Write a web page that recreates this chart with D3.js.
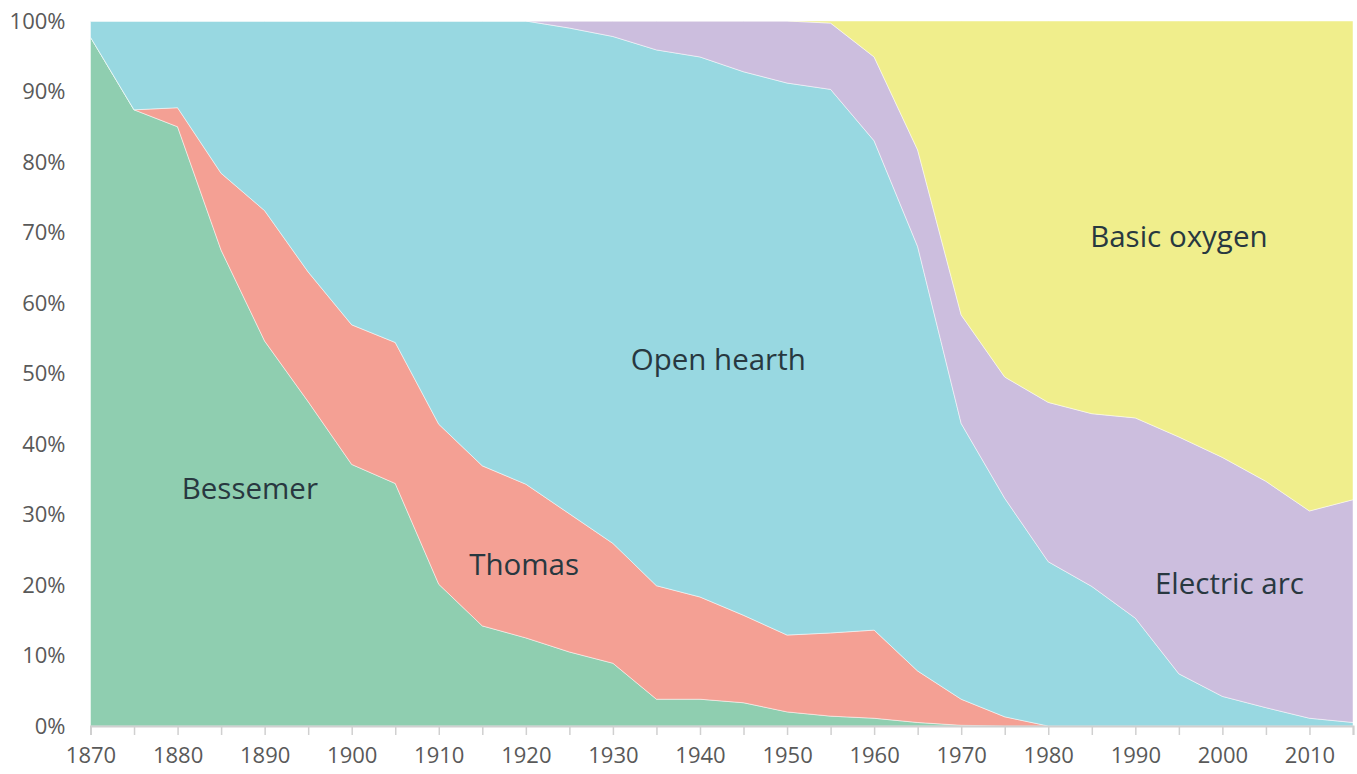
<!doctype html>
<html>
  <head>
    <meta charset="utf-8">
    <script src="https://cdn.jsdelivr.net/npm/d3@7"></script>
    <style>
      body { margin: 0; background: #fff; }
      svg { display: block; }
      .tick text { font-family: "Open Sans", sans-serif; font-size: 22px; fill: #595959; }
      .label { font-family: "Open Sans", sans-serif; font-size: 29.5px; fill: #283840; }
    </style>
  </head>
  <body>
    <svg width="1357" height="774"></svg>
    <script>
      // share of world steel output by process, percent
      const years = d3.range(1870, 2016, 5);
      const processes = ["Bessemer", "Thomas", "Open hearth", "Electric arc", "Basic oxygen"];
      const bessemer = [97.7, 87.4, 85.0, 67.5, 54.6, 46.0, 37.1, 34.4, 20.1, 14.2, 12.5, 10.5, 8.9, 3.8, 3.8,
                        3.3, 2.0, 1.4, 1.1, 0.5, 0.1, 0, 0, 0, 0, 0, 0, 0, 0, 0];
      const thomas = [0, 0, 2.7, 10.9, 18.5, 18.4, 19.8, 20.0, 22.7, 22.7, 21.8, 19.6, 17.0, 16.1, 14.5,
                      12.4, 10.9, 11.8, 12.5, 7.3, 3.7, 1.3, 0, 0, 0, 0, 0, 0, 0, 0];
      const openHearth = [2.3, 12.6, 12.3, 21.6, 26.9, 35.6, 43.1, 45.6, 57.2, 63.1, 65.7, 68.9, 71.9, 76.0, 76.6,
                          77.1, 78.3, 77.1, 69.4, 60.2, 39.1, 31.0, 23.3, 19.8, 15.3, 7.4, 4.2, 2.6, 1.1, 0.5];
      const electricArc = [0, 0, 0, 0, 0, 0, 0, 0, 0, 0, 0, 1.0, 2.2, 4.1, 5.1,
                           7.2, 8.8, 9.4, 11.9, 13.7, 15.4, 17.2, 22.6, 24.5, 28.4, 33.6, 33.9, 32.1, 29.4, 31.6];
      const basicOxygen = [0, 0, 0, 0, 0, 0, 0, 0, 0, 0, 0, 0, 0, 0, 0,
                           0, 0, 0.3, 5.1, 18.3, 41.7, 50.5, 54.1, 55.7, 56.3, 59.0, 61.9, 65.3, 69.5, 67.9];
      const colors = ["#8fceb0", "#f4a094", "#98d8e1", "#ccbede", "#f0ee8c"];
      const yTicks = d3.range(0, 1.01, 0.1);
      const xTicks = d3.range(1870, 2016, 10);

      // where each process name sits: [year, percent]
      const labelAt = [[1888.3, 33.8], [1919.8, 23.1], [1942.1, 52.1], [2000.8, 20.3], [1995.0, 69.6]];

      const series = [bessemer, thomas, openHearth, electricArc, basicOxygen];
      const table = years.map((yr, i) => {
        const row = { year: yr };
        processes.forEach((p, j) => { row[p] = series[j][i]; });
        return row;
      });

      const margin = { top: 21, right: 4, bottom: 48, left: 90.5 };
      const width = 1357 - margin.left - margin.right;
      const height = 774 - margin.top - margin.bottom;

      const svg = d3.select("svg");
      const g = svg.append("g").attr("transform", "translate(" + margin.left + "," + margin.top + ")");

      const x = d3.scaleLinear().domain([1870, 2015]).range([0, width]);
      const y = d3.scaleLinear().domain([0, 1]).range([height, 0]);

      const stacked = d3.stack().keys(processes).offset(d3.stackOffsetExpand)(table);

      const area = d3.area()
        .x(d => x(d.data.year))
        .y0(d => y(d[0]))
        .y1(d => y(d[1]));

      g.selectAll("path.layer")
        .data(stacked)
        .enter()
        .append("path")
        .attr("class", "layer")
        .attr("d", area)
        .style("fill", (d, i) => colors[i])
        .style("stroke", "#ffffff")
        .style("stroke-opacity", 0.6)
        .style("stroke-width", "0.8px");

      // y axis, labels only
      const yAxis = g.append("g")
        .call(d3.axisLeft(y).tickValues(yTicks).tickFormat(d3.format(".0%")).tickSize(0).tickPadding(25));
      yAxis.select(".domain").remove();

      // x axis: labelled every 10 years, ticks every 5
      const xAxis = g.append("g")
        .attr("transform", "translate(0," + height + ")")
        .call(d3.axisBottom(x).tickValues(years).tickSize(9).tickPadding(8)
          .tickFormat(d => xTicks.includes(d) ? d : ""));
      xAxis.select(".domain").attr("stroke", "#d0d0d0").attr("stroke-width", 2);
      xAxis.selectAll(".tick line").attr("stroke", "#d0d0d0").attr("stroke-width", 1.5);
      xAxis.selectAll(".tick text").attr("dy", "0.9em");

      g.selectAll("text.label")
        .data(processes)
        .enter()
        .append("text")
        .attr("class", "label")
        .attr("x", (d, i) => x(labelAt[i][0]))
        .attr("y", (d, i) => y(labelAt[i][1] / 100))
        .attr("text-anchor", "middle")
        .attr("dominant-baseline", "central")
        .text(d => d);
    </script>
  </body>
</html>
